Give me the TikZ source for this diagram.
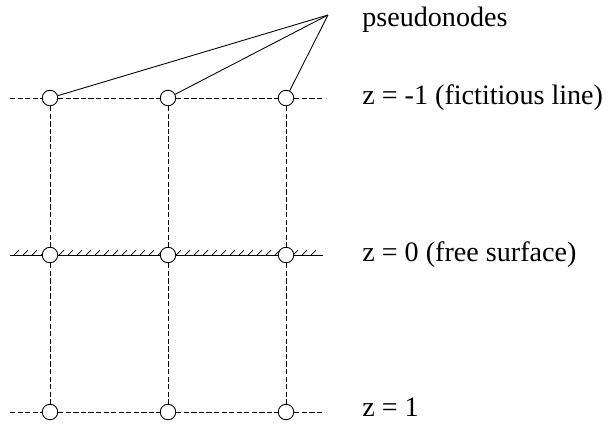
\documentclass[tikz,border=0pt]{standalone}
\usepackage{fontspec}
\setmainfont{Liberation Serif}
\usetikzlibrary{positioning}

\tikzset{
  pnode/.style={circle, draw, fill=white, inner sep=0pt, minimum size=0.31cm, line width=0.5pt},
  gridline/.style={line width=0.45pt, dash pattern=on 3pt off 1.3pt},
  surfline/.style={line width=0.5pt},
  lbl/.style={anchor=west, inner sep=0pt}
}

\begin{document}
\begin{tikzpicture}[x=0.02cm, y=-0.02cm, font=\fontsize{16}{19}\selectfont]
    \useasboundingbox (0,0) rectangle (609,423);
    % hatching on the free surface
    \foreach \hx in {14,23,...,318}{
      \draw[line width=0.4pt] (\hx,255) -- ++(5,-5);
    }
    % nodes, rows r1 (z=-1), r2 (z=0), r3 (z=1)
    \foreach \cx/\ci in {50/1, 168/2, 286/3}{
      \node[pnode] (r1c\ci) at (\cx, 98) {};
      \node[pnode] (r2c\ci) at (\cx,255) {};
      \node[pnode] (r3c\ci) at (\cx,412) {};
    }
    \coordinate (l1) at (10, 98);  \coordinate (e1) at (323, 98);
    \coordinate (l2) at (10,255);  \coordinate (e2) at (323,255);
    \coordinate (l3) at (10,412);  \coordinate (e3) at (323,412);
    % horizontal lines
    \draw[gridline] (l1) -- (r1c1) -- (r1c2) -- (r1c3) -- (e1);
    \draw[surfline] (l2) -- (r2c1) -- (r2c2) -- (r2c3) -- (e2);
    \draw[gridline] (l3) -- (r3c1) -- (r3c2) -- (r3c3) -- (e3);
    % vertical lines
    \foreach \ci in {1,2,3}{
      \draw[gridline] (r1c\ci) -- (r2c\ci);
      \draw[gridline] (r2c\ci) -- (r3c\ci);
    }
    % pseudonodes
    \coordinate (apex) at (328,15);
    \draw[line width=0.5pt] (apex) -- (r1c1);
    \draw[line width=0.5pt] (apex) -- (r1c2);
    \draw[line width=0.5pt] (apex) -- (r1c3);
    \node[lbl] (tpseudo) at (362,20) {pseudonodes};
    \node[lbl] (tfict) at (362,98) {z = -1 (fictitious line)};
    \node[lbl] (tfree) at (362,255) {z = 0 (free surface)};
    \node[lbl] (tbed) at (362,407) {z = 1};
\end{tikzpicture}
\end{document}
